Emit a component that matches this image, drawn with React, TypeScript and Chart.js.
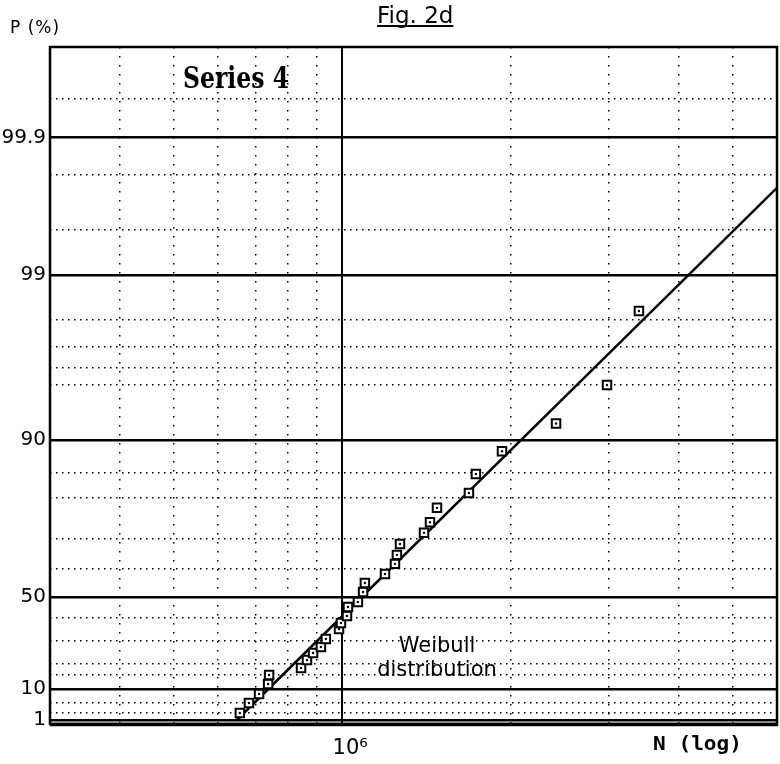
import React, { useEffect, useRef } from 'react';
import { Chart, registerables, Scale } from 'chart.js';

Chart.register(...registerables);

// ---- data (Series 4, Weibull plot) ----
const cyclesN = [
  6.56e5, 6.81e5, 7.10e5, 7.37e5, 7.40e5, 8.44e5, 8.65e5, 8.87e5, 9.16e5, 9.35e5,
  9.87e5, 9.95e5, 1.02e6, 1.024e6, 1.067e6, 1.09e6, 1.098e6, 1.193e6, 1.243e6, 1.253e6,
  1.269e6, 1.401e6, 1.436e6, 1.478e6, 1.686e6, 1.735e6, 1.932e6, 2.414e6, 2.978e6, 3.397e6,
];
const failureP = [
  2.0, 5.0, 8.2, 11.8, 15.0, 18.2, 21.7, 24.8, 27.4, 30.9,
  35.2, 37.8, 41.0, 45.2, 47.6, 51.8, 55.0, 58.2, 61.7, 64.7,
  68.3, 71.5, 74.1, 77.6, 81.0, 84.8, 88.3, 91.5, 95.0, 98.2,
];
const fitLineN = [6.48e5, 6.0e6];
const fitLineP = [1, 99.73];

// ---- probability paper ruling (P in %, relative height on the paper 0..100) ----
const paperP = [0.5, 1, 2, 5, 10, 15, 20, 30, 40, 50, 60, 70, 80, 85, 90, 95, 96, 97, 98, 99, 99.5, 99.8, 99.9, 99.99, 99.999];
const paperU = [0, 0.59, 1.62, 3.1, 5.17, 7.24, 8.86, 12.26, 15.66, 18.76, 22.9, 27.33, 33.38, 37.08, 41.95, 50.07, 52.58, 55.69, 59.67, 66.32, 72.97, 81.09, 86.6, 92.32, 100];

const yMajorTicks = [1, 10, 50, 90, 99, 99.9];
const yMinorTicks = [2, 5, 15, 20, 30, 40, 60, 70, 80, 85, 95, 96, 97, 98, 99.5, 99.8, 99.99];
const xMajorTicks = [1e6];
const xMinorTicks = [4e5, 5e5, 6e5, 7e5, 8e5, 9e5, 2e6, 3e6, 4e6, 5e6];
const xMin = 3e5;
const xMax = 6e6;

function interp(v: number, xs: number[], ys: number[]): number {
  const n = xs.length;
  if (v <= xs[0]) return ys[0] + ((v - xs[0]) * (ys[1] - ys[0])) / (xs[1] - xs[0]);
  for (let i = 1; i < n; i++) {
    if (v <= xs[i]) {
      const t = (v - xs[i - 1]) / (xs[i] - xs[i - 1]);
      return ys[i - 1] + t * (ys[i] - ys[i - 1]);
    }
  }
  return ys[n - 1] + ((v - xs[n - 1]) * (ys[n - 1] - ys[n - 2])) / (xs[n - 1] - xs[n - 2]);
}

class ProbabilityScale extends Scale {
  static id = 'probability';
  static defaults = {};
  _u0 = 0;
  _u1 = 100;
  determineDataLimits() {
    const o: any = this.options;
    this.min = o.min ?? paperP[0];
    this.max = o.max ?? paperP[paperP.length - 1];
  }
  buildTicks() {
    return [...yMinorTicks, ...yMajorTicks].sort((a, b) => a - b).map((value) => ({ value }));
  }
  getLabelForValue(v: number) {
    return `${v}`;
  }
  configure() {
    super.configure();
    this._u0 = interp(this.min, paperP, paperU);
    this._u1 = interp(this.max, paperP, paperU);
  }
  getPixelForValue(v: number) {
    const u = interp(v, paperP, paperU);
    return this.getPixelForDecimal((u - this._u0) / (this._u1 - this._u0));
  }
  getValueForPixel(p: number) {
    const d = this.getDecimalForPixel(p);
    return interp(this._u0 + d * (this._u1 - this._u0), paperU, paperP);
  }
}
Chart.register(ProbabilityScale as any);

const SUP: Record<string, string> = { '0': '⁰', '1': '¹', '2': '²', '3': '³', '4': '⁴', '5': '⁵', '6': '⁶', '7': '⁷', '8': '⁸', '9': '⁹' };
function pow10Label(v: number) {
  const e = Math.round(Math.log10(v));
  return '10' + String(e).split('').map((c) => SUP[c] ?? c).join('');
}

function drawFitted(ctx: CanvasRenderingContext2D, text: string, font: string, x: number, y: number, width: number) {
  ctx.save();
  ctx.font = font;
  ctx.textAlign = 'left';
  ctx.textBaseline = 'alphabetic';
  const w = ctx.measureText(text).width;
  ctx.translate(x, y);
  ctx.scale(width / w, 1);
  ctx.fillText(text, 0, 0);
  ctx.restore();
}

const paperPlugin = {
  id: 'paper',
  afterDraw(chart: any) {
    const { ctx, chartArea: a } = chart;
    ctx.save();
    ctx.strokeStyle = '#000';
    ctx.lineWidth = 2.5;
    ctx.strokeRect(a.left, a.top, a.right - a.left, a.bottom - a.top);
    ctx.lineWidth = 3.5;
    ctx.beginPath();
    ctx.moveTo(a.left, a.bottom + 0.5);
    ctx.lineTo(a.right + 1, a.bottom + 0.5);
    ctx.stroke();

    ctx.fillStyle = '#000';
    ctx.textAlign = 'left';
    ctx.textBaseline = 'alphabetic';
    ctx.font = '17px "DejaVu Sans"';
    (ctx as any).letterSpacing = '1px';
    ctx.fillText('P (%)', 10, 33);
    (ctx as any).letterSpacing = '0px';

    ctx.font = '23px "DejaVu Sans"';
    ctx.fillText('Fig. 2d', 377, 23);
    const fw = ctx.measureText('Fig. 2d').width;
    ctx.fillRect(377, 25, fw, 2);

    drawFitted(ctx, 'Series 4', 'bold 29px "DejaVu Serif"', 183, 88, 106);

    ctx.font = '21px "DejaVu Sans"';
    ctx.textAlign = 'center';
    ctx.fillText('Weibull', 437, 652);
    ctx.fillText('distribution', 437, 676);

    drawFitted(ctx, 'N (log)', 'bold 20px "DejaVu Sans Mono"', 653, 750, 89);
    ctx.restore();
  },
};

export default function App() {
  const ref = useRef<HTMLCanvasElement>(null);
  useEffect(() => {
    if (!ref.current) return;
    const points = cyclesN.map((n, i) => ({ x: n, y: failureP[i] }));
    const fit = fitLineN.map((n, i) => ({ x: n, y: fitLineP[i] }));
    const isMajorY = (c: any) => c.tick && yMajorTicks.includes(c.tick.value);
    const isMajorX = (c: any) => c.tick && xMajorTicks.includes(c.tick.value);
    const chart = new Chart(ref.current, {
      type: 'scatter',
      data: {
        datasets: [
          { label: 'centre', data: points, pointStyle: 'circle', pointRadius: 1.2, backgroundColor: '#000', borderWidth: 0, order: 0 } as any,
          { label: 'Series 4', data: points, pointStyle: 'rect', pointRadius: 6, borderColor: '#000', borderWidth: 2, backgroundColor: '#fff', order: 1 } as any,
          { label: 'Weibull fit', data: fit, showLine: true, pointRadius: 0, borderColor: '#000', borderWidth: 2.5, order: 2 } as any,
        ],
      },
      options: {
        animation: false,
        responsive: false,
        events: [],
        layout: { autoPadding: false, padding: { left: 0, right: 3, top: 47, bottom: 0 } },
        plugins: { legend: { display: false }, tooltip: { enabled: false }, title: { display: false } },
        scales: {
          x: {
            type: 'logarithmic',
            min: xMin,
            max: xMax,
            afterBuildTicks: (s: any) => {
              s.ticks = [...xMinorTicks, ...xMajorTicks].sort((a, b) => a - b).map((value) => ({ value }));
            },
            afterFit: (s: any) => {
              s.height = 40;
              s.paddingLeft = 0;
              s.paddingRight = 0;
            },
            grid: { drawTicks: false, color: '#000', lineWidth: (c: any) => (isMajorX(c) ? 2 : 1.5) },
            border: { display: false, dash: (c: any) => (c.tick && !isMajorX(c) ? [1.5, 7.5] : []) },
            ticks: {
              autoSkip: false,
              maxRotation: 0,
              padding: 12,
              labelOffset: 8,
              color: '#000',
              font: { size: 21, family: 'DejaVu Sans' },
              callback: (v: any) => (xMajorTicks.includes(Number(v)) ? pow10Label(Number(v)) : ''),
            },
          } as any,
          y: {
            type: 'probability',
            min: 0.5,
            max: 99.999,
            afterFit: (s: any) => {
              s.width = 50;
              s.paddingTop = 0;
              s.paddingBottom = 0;
            },
            grid: { drawTicks: false, color: '#000', lineWidth: (c: any) => (isMajorY(c) ? 2.5 : 1.5) },
            border: { display: false, dash: (c: any) => (c.tick && !isMajorY(c) ? [1.5, 4.5] : []) },
            ticks: {
              autoSkip: false,
              padding: 4,
              color: '#000',
              font: { size: 20, family: 'DejaVu Sans' },
              callback: (v: any) => (yMajorTicks.includes(Number(v)) ? String(v) : ''),
            },
          } as any,
        },
      } as any,
      plugins: [paperPlugin],
    });
    return () => chart.destroy();
  }, []);
  return (
    <div style={{ position: 'absolute', left: 0, top: 0, width: 780, height: 764, background: '#fff' }}>
      <canvas ref={ref} width={780} height={764} style={{ width: 780, height: 764, display: 'block' }} />
    </div>
  );
}
